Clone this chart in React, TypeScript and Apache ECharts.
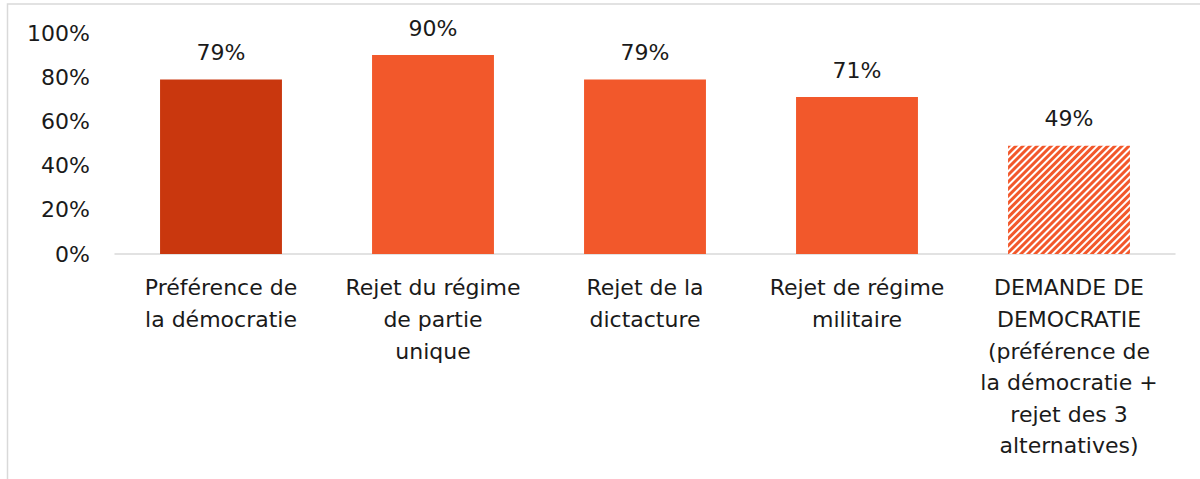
import React, { useEffect, useRef } from "react";
import * as echarts from "echarts";

const categories = [
  "Préférence de\nla démocratie",
  "Rejet du régime\nde partie\nunique",
  "Rejet de la\ndictacture",
  "Rejet de régime\nmilitaire",
  "DEMANDE DE\nDEMOCRATIE\n(préférence de\nla démocratie +\nrejet des 3\nalternatives)",
];
const values = [79, 90, 79, 71, 49];
const yTicks = [0, 20, 40, 60, 80, 100];

const DARK = "#C9370E";
const ORANGE = "#F2582B";
const FONT = "DejaVu Sans";

export default function App() {
  const ref = useRef<HTMLDivElement>(null);
  useEffect(() => {
    document.body.style.margin = "0";
    const chart = echarts.init(ref.current!, null, { renderer: "svg" });
    const data = values.map((v, i) => {
      if (i === 0) return { value: v, itemStyle: { color: DARK } };
      if (i === values.length - 1)
        return {
          value: v,
          itemStyle: {
            color: "#ffffff",
            decal: {
              symbol: "rect",
              symbolSize: 1,
              dashArrayX: [[1, 0]],
              dashArrayY: [2.3, 2],
              rotation: -Math.PI / 4,
              color: ORANGE,
              backgroundColor: "#ffffff",
            },
          },
        };
      return { value: v, itemStyle: { color: ORANGE } };
    });
    chart.setOption({
      animation: false,
      textStyle: { fontFamily: FONT },
      graphic: [
        {
          type: "rect",
          shape: { x: 7.5, y: 4, width: 1400, height: 700 },
          style: { fill: "none", stroke: "#D9D9D9", lineWidth: 1.5 },
          silent: true,
        },
      ],
      grid: { left: 115, right: 25, top: 33, bottom: 225, containLabel: false },
      xAxis: {
        type: "category",
        data: categories,
        axisLine: { show: true, lineStyle: { color: "#D9D9D9", width: 1.5 } },
        axisTick: { show: false },
        axisLabel: {
          interval: 0,
          color: "#1a1a1a",
          fontFamily: FONT,
          fontSize: 22,
          lineHeight: 31.6,
          margin: 18,
        },
      },
      yAxis: {
        type: "value",
        min: yTicks[0],
        max: yTicks[yTicks.length - 1],
        interval: 20,
        splitLine: { show: false },
        axisLine: { show: false },
        axisTick: { show: false },
        axisLabel: {
          formatter: "{value}%",
          color: "#1a1a1a",
          fontFamily: FONT,
          fontSize: 22,
          margin: 25,
        },
      },
      series: [
        {
          type: "bar",
          data,
          barWidth: "57.5%",
          label: {
            show: true,
            position: "top",
            distance: 16,
            formatter: "{c}%",
            color: "#1a1a1a",
            fontFamily: FONT,
            fontSize: 22,
          },
        },
      ],
    });
    return () => chart.dispose();
  }, []);
  return <div ref={ref} style={{ width: 1200, height: 479 }} />;
}
